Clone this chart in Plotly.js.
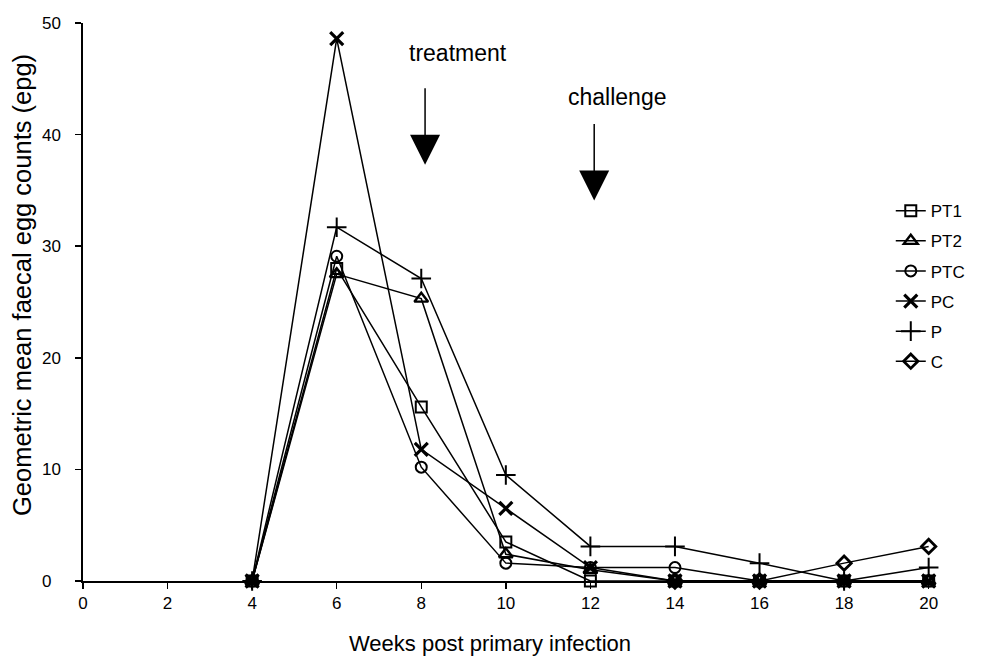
<!DOCTYPE html>
<html>
<head>
<meta charset="utf-8">
<script src="https://cdn.plot.ly/plotly-3.0.1.min.js"></script>
<style>html,body{margin:0;padding:0;background:#fff;}#chart{width:982px;height:659px;}</style>
</head>
<body>
<div id="chart"></div>
<script>
// Weeks post primary infection
const weeks = [4, 6, 8, 10, 12, 14, 16, 18, 20];
// Geometric mean faecal egg counts (epg) per group
const PT1 = [0, 28.0, 15.6, 3.5, 0, 0, 0, 0, 0];
const PT2 = [0, 27.5, 25.3, 2.4, 1.0, 0, 0, 0, 0];
const PTC = [0, 29.1, 10.2, 1.6, 1.2, 1.2, 0, 0, 0];
const PC  = [0, 48.6, 11.8, 6.5, 1.2, 0, 0, 0, 0];
const P   = [0, 31.7, 27.1, 9.5, 3.1, 3.1, 1.6, 0, 1.2];
const C   = [null, null, null, null, null, 0, 0, 1.6, 3.1];
const groupNames = ["PT1", "PT2", "PTC", "PC", "P", "C"];
const xTicks = [0, 2, 4, 6, 8, 10, 12, 14, 16, 18, 20];
const yTicks = [0, 10, 20, 30, 40, 50];
const yTickText = ["0\u2007", "10", "20", "30", "40", "50"];

const series = [PT1, PT2, PTC, PC, P, C];
const markerStyles = [
  {symbol: "square-open", size: 11, line: {width: 2, color: "#000"}},
  {symbol: "triangle-up-open", size: 12, line: {width: 2.4, color: "#000"}},
  {symbol: "circle-open", size: 11, line: {width: 2, color: "#000"}},
  {symbol: "x-thin-open", size: 13, line: {width: 3.2, color: "#000"}},
  {symbol: "cross-thin-open", size: 14, line: {width: 2, color: "#000"}},
  {symbol: "diamond-open", size: 11, line: {width: 2.8, color: "#000"}}
];

const traces = series.map((vals, i) => ({
  x: weeks,
  y: vals,
  name: groupNames[i],
  legendgroup: groupNames[i],
  type: "scatter",
  mode: "lines+markers",
  line: {color: "#000", width: 1.5},
  marker: Object.assign({color: "#000"}, markerStyles[i]),
  cliponaxis: false
}));
// empty helper trace so the label-only y axis is drawn
traces.push({x: [], y: [], yaxis: "y2", type: "scatter", mode: "markers", showlegend: false, hoverinfo: "skip"});

const font = {family: "Liberation Sans, Arial, sans-serif", color: "#000"};

const layout = {
  width: 982,
  height: 659,
  paper_bgcolor: "#fff",
  plot_bgcolor: "#fff",
  margin: {l: 61, r: 47, t: 23, b: 78},
  showlegend: true,
  legend: {
    x: 0.9494, y: 0.695, xanchor: "left", yanchor: "top",
    bgcolor: "rgba(0,0,0,0)",
    font: Object.assign({size: 17}, font),
    traceorder: "grouped",
    tracegroupgap: 5,
    itemwidth: 30
  },
  xaxis: {
    domain: [(83 - 61) / (982 - 61 - 47), 1],
    range: [0, 20.15],
    tickvals: xTicks,
    ticktext: xTicks.map(String),
    ticks: "outside",
    ticklen: 6,
    tickwidth: 1.5,
    tickcolor: "#000",
    showline: true,
    linecolor: "#000",
    linewidth: 2,
    showgrid: false,
    zeroline: false,
    tickfont: Object.assign({size: 17}, font)
  },
  yaxis: {
    anchor: "x",
    range: [0, 50],
    tickvals: yTicks,
    showticklabels: false,
    ticks: "outside",
    ticklen: 6,
    tickwidth: 1.5,
    tickcolor: "#000",
    showline: true,
    linecolor: "#000",
    linewidth: 2,
    showgrid: false,
    zeroline: false
  },
  yaxis2: {
    overlaying: "y",
    anchor: "free",
    position: 0,
    side: "left",
    range: [0, 50],
    tickvals: yTicks,
    ticktext: yTickText,
    ticks: "",
    showline: false,
    showgrid: false,
    zeroline: false,
    tickfont: Object.assign({size: 17}, font)
  },
  annotations: [
    {x: 490, y: 643, xref: "paper", yref: "paper", text: "Weeks post primary infection", showarrow: false,
     font: Object.assign({size: 22}, font), xanchor: "center", yanchor: "middle"},
    {x: 22, y: 285, xref: "paper", yref: "paper", text: "Geometric mean faecal egg counts (epg)", showarrow: false,
     textangle: -90, font: Object.assign({size: 25.5}, font), xanchor: "center", yanchor: "middle"},
    {x: 8.87, y: 47.3, xref: "x", yref: "y", text: "treatment", showarrow: false,
     font: Object.assign({size: 23}, font)},
    {x: 8.09, y: 37.3, xref: "x", yref: "y", text: "", showarrow: true,
     ax: 0, ay: -78, arrowhead: 2, arrowsize: 4, arrowwidth: 1.5, arrowcolor: "#000", standoff: 0},
    {x: 12.63, y: 43.4, xref: "x", yref: "y", text: "challenge", showarrow: false,
     font: Object.assign({size: 23}, font)},
    {x: 12.09, y: 34.1, xref: "x", yref: "y", text: "", showarrow: true,
     ax: 0, ay: -78, arrowhead: 2, arrowsize: 4, arrowwidth: 1.5, arrowcolor: "#000", standoff: 0}
  ]
};

// Convert axis-title pixel positions to paper fractions
const plotW = layout.width - layout.margin.l - layout.margin.r;
const plotH = layout.height - layout.margin.t - layout.margin.b;
layout.annotations[0].x = (layout.annotations[0].x - layout.margin.l) / plotW;
layout.annotations[0].y = 1 - (layout.annotations[0].y - layout.margin.t) / plotH;
layout.annotations[1].x = (layout.annotations[1].x - layout.margin.l) / plotW;
layout.annotations[1].y = 1 - (layout.annotations[1].y - layout.margin.t) / plotH;

Plotly.newPlot("chart", traces, layout, {displayModeBar: false, staticPlot: true});
</script>
</body>
</html>
